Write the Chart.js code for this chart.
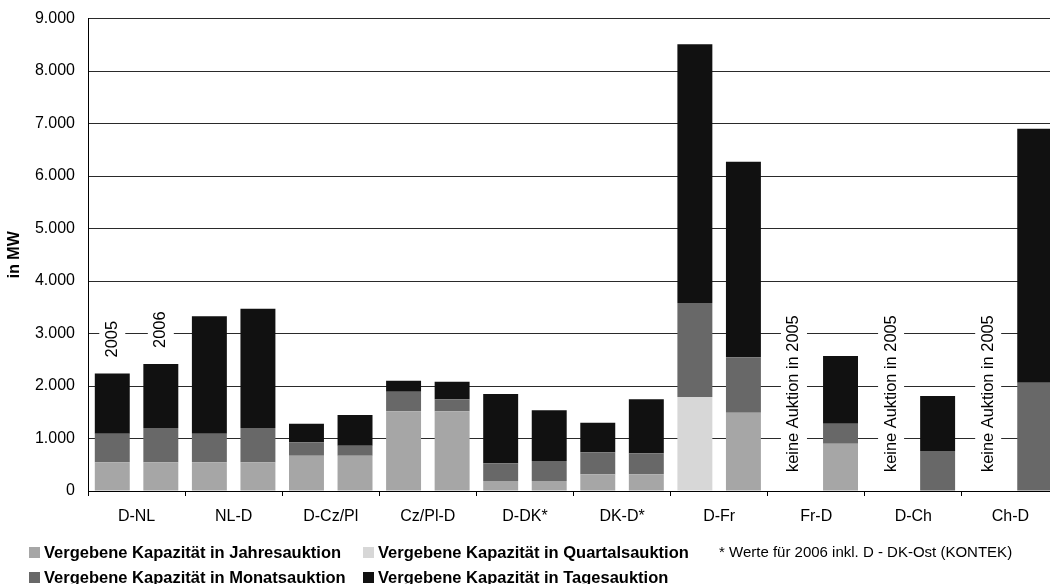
<!DOCTYPE html>
<html>
<head>
<meta charset="utf-8">
<script src="https://cdn.jsdelivr.net/npm/chart.js@4/dist/chart.umd.min.js"></script>
<style>
  html, body { margin:0; padding:0; background:#fff; overflow:hidden; width:1050px; height:584px; }
  #wrap { position:relative; width:1050px; height:584px; overflow:hidden; }
  canvas { position:absolute; left:0; top:0; }
  .lg { position:absolute; white-space:nowrap; font-family:"Liberation Sans", Arial, sans-serif; line-height:20px; color:#000; }
  .b { font-weight:bold; font-size:16.5px; }
  .sq { position:absolute; width:11px; height:11px; }
</style>
</head>
<body>
<div id="wrap">
  <canvas id="c" width="1059" height="584"></canvas>
  <div class="sq" style="left:29px;top:547px;background:#a6a6a6"></div>
  <div class="lg b" style="left:44px;top:542px">Vergebene Kapazität in Jahresauktion</div>
  <div class="sq" style="left:363px;top:547px;background:#d7d7d7"></div>
  <div class="lg b" style="left:378px;top:542px">Vergebene Kapazität in Quartalsauktion</div>
  <div class="lg" style="left:719px;top:542px;font-size:15px">* Werte für 2006 inkl. D - DK-Ost (KONTEK)</div>
  <div class="sq" style="left:29px;top:572px;background:#686868"></div>
  <div class="lg b" style="left:44px;top:567px">Vergebene Kapazität in Monatsauktion</div>
  <div class="sq" style="left:363px;top:572px;background:#111111"></div>
  <div class="lg b" style="left:378px;top:567px">Vergebene Kapazität in Tagesauktion</div>
</div>
<script>
// ---- data ----
const categories = ['D-NL','NL-D','D-Cz/Pl','Cz/Pl-D','D-DK*','DK-D*','D-Fr','Fr-D','D-Ch','Ch-D'];
const years = ['2005','2006'];
const yTickLabels = ['0','1.000','2.000','3.000','4.000','5.000','6.000','7.000','8.000','9.000'];
const seriesNames = ['Vergebene Kapazität in Jahresauktion','Vergebene Kapazität in Quartalsauktion','Vergebene Kapazität in Monatsauktion','Vergebene Kapazität in Tagesauktion'];
const noAuctionText = 'keine Auktion in 2005';
const noAuctionCategories = ['Fr-D','D-Ch','Ch-D'];

// 2005 (segments, MW)
const jahres2005   = [550, 550, 670, 1520, 190, 320, 0,    null, null, null];
const quartals2005 = [0,   0,   0,   0,    0,   0,   1790, null, null, null];
const monats2005   = [540, 540, 260, 370,  340, 420, 1790, null, null, null];
const tages2005    = [1150,2240,350, 210,  1320,560, 4930, null, null, null];
// 2006 (segments, MW)
const jahres2006   = [550, 550, 670, 1520, 190, 320, 1490, 900,  0,    0];
const quartals2006 = [0,   0,   0,   0,    0,   0,   0,    0,    0,    0];
const monats2006   = [650, 650, 190, 230,  380, 400, 1060, 380,  760,  2060];
const tages2006    = [1220,2270,590, 330,  970, 1030,3720, 1290, 1050, 4840];

const colors = ['#a6a6a6','#d7d7d7','#686868','#111111'];
const set2005 = [jahres2005, quartals2005, monats2005, tages2005];
const set2006 = [jahres2006, quartals2006, monats2006, tages2006];

const FONT = '"Liberation Sans", Arial, sans-serif';
Chart.defaults.font.family = FONT;
Chart.defaults.color = '#000';

const datasets = [];
[set2005, set2006].forEach((set, yi) => {
  set.forEach((arr, si) => {
    datasets.push({
      label: seriesNames[si] + ' ' + years[yi],
      data: arr,
      backgroundColor: colors[si],
      borderWidth: 0,
      stack: years[yi],
      categoryPercentage: 1.0,
      barPercentage: 0.72
    });
  });
});

function total(set, i) { return set.reduce((s, a) => s + (a[i] || 0), 0); }

const annotPlugin = {
  id: 'annot',
  afterDatasetsDraw(chart) {
    const ctx = chart.ctx, xs = chart.scales.x, ys = chart.scales.y;
    const step = xs.getPixelForValue(1) - xs.getPixelForValue(0);
    const slotX = (i, s) => xs.getPixelForValue(i) + (s === 0 ? -1 : 1) * step / 4;
    ctx.save();
    ctx.font = '16.4px ' + FONT;
    function drawRot(text, cx, bottomY) {
      const w = ctx.measureText(text).width;
      ctx.fillStyle = '#fff';
      ctx.fillRect(cx - 13, bottomY - w - 6, 26, w + 12);
      ctx.save();
      ctx.translate(cx, bottomY);
      ctx.rotate(-Math.PI / 2);
      ctx.fillStyle = '#000';
      ctx.textAlign = 'left';
      ctx.textBaseline = 'middle';
      ctx.fillText(text, 0, 0);
      ctx.restore();
    }
    drawRot(years[0], slotX(0, 0), ys.getPixelForValue(total(set2005, 0)) - 16);
    drawRot(years[1], slotX(0, 1), ys.getPixelForValue(total(set2006, 0)) - 16);
    noAuctionCategories.forEach(c => {
      const i = categories.indexOf(c);
      drawRot(noAuctionText, slotX(i, 0) + 2, ys.getPixelForValue(0) - 19);
    });
    ctx.restore();
  }
};

new Chart(document.getElementById('c'), {
  type: 'bar',
  data: { labels: categories, datasets },
  options: {
    responsive: false,
    animation: false,
    layout: { padding: { top: 18.5, right: 0, left: 0, bottom: 0 } },
    plugins: { legend: { display: false }, tooltip: { enabled: false } },
    scales: {
      x: {
        stacked: true,
        grid: { display: true, drawOnChartArea: false, drawTicks: true, tickLength: 5, color: '#000', offset: true },
        border: { display: true, color: '#000', width: 1 },
        ticks: { font: { size: 16 }, color: '#000', padding: 11, maxRotation: 0, autoSkip: false },
        afterFit(scale) { scale.height = 93; scale.paddingLeft = 0; scale.paddingRight = 0; }
      },
      y: {
        stacked: true,
        min: 0, max: 9000,
        ticks: {
          stepSize: 1000, font: { size: 16 }, color: '#000', padding: 13,
          callback: (v) => yTickLabels[Math.round(v / 1000)]
        },
        grid: { color: '#2a2a2a', lineWidth: 1, drawTicks: false },
        border: { display: true, color: '#000', width: 1 },
        title: { display: true, text: 'in MW', font: { size: 16, weight: 'bold' }, color: '#000', padding: { top: 5, bottom: 0 } },
        afterFit(scale) { scale.width = 88; scale.paddingTop = 0; scale.paddingBottom = 0; }
      }
    }
  },
  plugins: [annotPlugin]
});
</script>
</body>
</html>
